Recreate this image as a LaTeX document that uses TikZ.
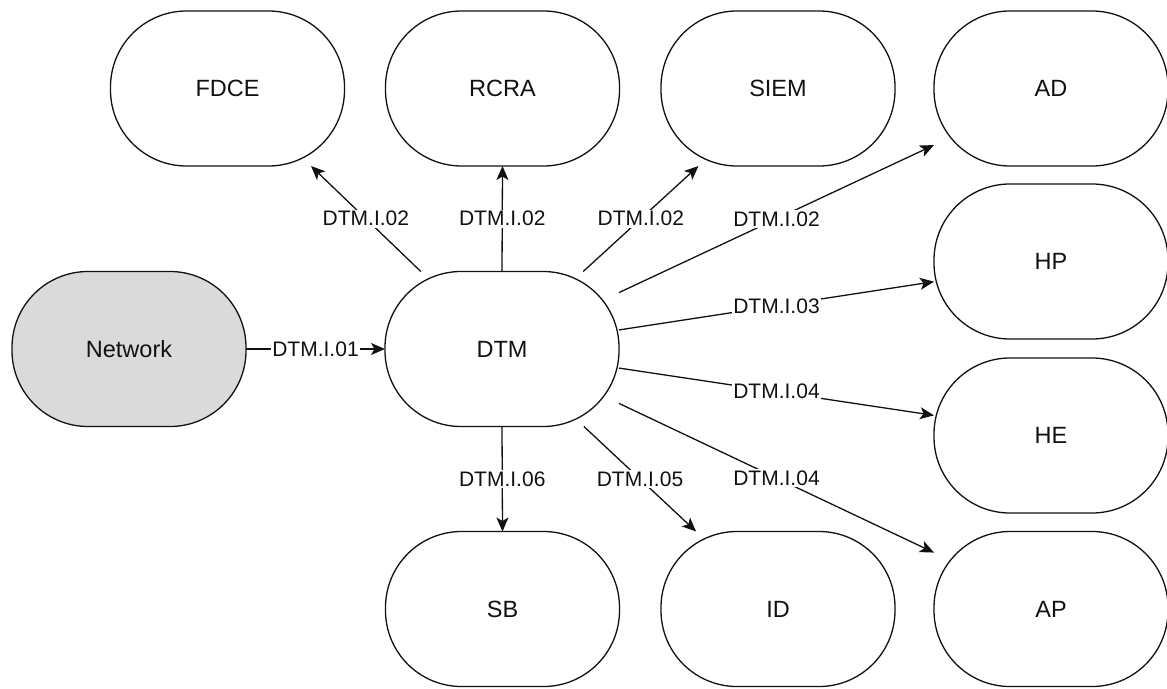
\documentclass[tikz,border=0pt]{standalone}
\usepackage{fontspec}
\setmainfont{Liberation Sans}
\usetikzlibrary{arrows.meta,calc}

\definecolor{inkline}{HTML}{111111}
\definecolor{netfill}{HTML}{DADADA}

\tikzset{
  pill/.style={draw=inkline, line width=1.3pt, rectangle, rounded corners=76pt,
    minimum width=234pt, minimum height=155pt, inner sep=0pt, outer sep=0pt,
    font=\fontsize{23.5}{28}\selectfont, text=inkline, fill=white},
  source/.style={pill, fill=netfill},
  flow/.style={draw=inkline, line width=1.3pt,
    -{Stealth[length=14pt, width=12pt, inset=3.5pt]}},
  tag/.style={fill=white, inner sep=1.5pt, text=inkline,
    font=\fontsize{21}{25}\selectfont}
}

\begin{document}
\begin{tikzpicture}[x=1pt, y=-1pt]
  \useasboundingbox (0,0) rectangle (1167,688);

  % systems around the monitor
  \node[pill] (fdce) at (227.5,88.5) {FDCE};
  \node[pill] (rcra) at (502.5,88.5) {RCRA};
  \node[pill] (siem) at (778,88.5)   {SIEM};
  \node[pill] (ad)   at (1051,88.5)  {AD};
  \node[pill] (hp)   at (1051,261.5) {HP};
  \node[pill] (he)   at (1051,435.5) {HE};
  \node[pill] (ap)   at (1051,609)   {AP};
  \node[source] (net) at (129,349)   {Network};
  \node[pill] (dtm)  at (502,349)    {DTM};
  \node[pill] (sb)   at (502.5,609)  {SB};
  \node[pill] (id)   at (778,609)    {ID};

  % input
  \draw[flow] (net.east) -- node[tag] {DTM.I.01} (dtm.west);

  % outputs upward
  \draw[flow] ($(dtm.north west)!0.153!(dtm.north east)$) -- node[tag] {DTM.I.02}
              ($(fdce.south west)!0.857!(fdce.south east)$);
  \draw[flow] (dtm.north) -- node[tag] {DTM.I.02} (rcra.south);
  \draw[flow] ($(dtm.north west)!0.847!(dtm.north east)$) -- node[tag] {DTM.I.02}
              ($(siem.south west)!0.16!(siem.south east)$);

  % outputs to the right
  \draw[flow] ($(dtm.north east)!0.136!(dtm.south east)$) -- node[tag] {DTM.I.02}
              ($(ad.north west)!0.865!(ad.south west)$);
  \draw[flow] ($(dtm.north east)!0.377!(dtm.south east)$) -- node[tag] {DTM.I.03}
              ($(hp.north west)!0.63!(hp.south west)$);
  \draw[flow] ($(dtm.north east)!0.623!(dtm.south east)$) -- node[tag] {DTM.I.04}
              ($(he.north west)!0.37!(he.south west)$);
  \draw[flow] ($(dtm.north east)!0.851!(dtm.south east)$) -- node[tag] {DTM.I.04}
              ($(ap.north west)!0.136!(ap.south west)$);

  % outputs downward
  \draw[flow] ($(dtm.south west)!0.85!(dtm.south east)$) -- node[tag] {DTM.I.05}
              ($(id.north west)!0.15!(id.north east)$);
  \draw[flow] (dtm.south) -- node[tag] {DTM.I.06} (sb.north);
\end{tikzpicture}
\end{document}
